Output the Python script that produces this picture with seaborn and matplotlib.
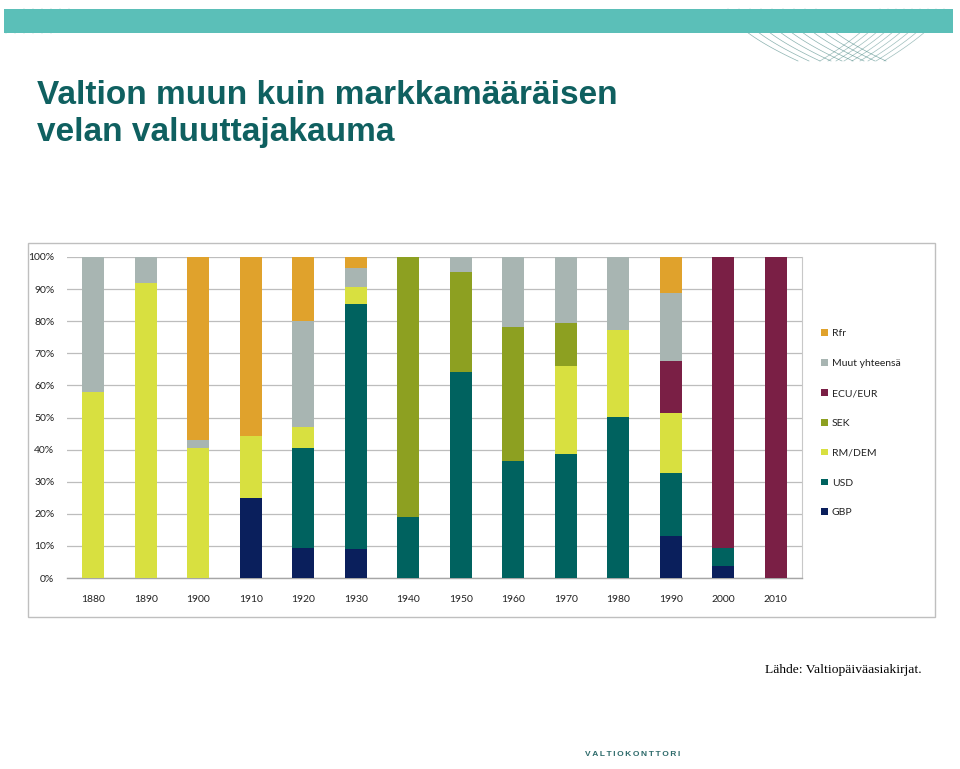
import matplotlib
matplotlib.use("Agg")
import matplotlib.pyplot as plt
import matplotlib.patches as mpatches
import numpy as np
import pandas as pd
import seaborn as sns

# Data (share of debt, %)
years = ["1880", "1890", "1900", "1910", "1920", "1930", "1940",
         "1950", "1960", "1970", "1980", "1990", "2000", "2010"]
gbp = [0, 0, 0, 25.0, 9.5, 9.0, 0, 0, 0, 0, 0, 13.0, 3.8, 0]
usd = [0, 0, 0, 0, 30.9, 76.5, 18.9, 64.3, 36.6, 38.7, 50.1, 19.8, 5.5, 0]
rm_dem = [58.0, 92.0, 40.6, 19.3, 6.6, 5.0, 0, 0, 0, 27.3, 27.2, 18.5, 0, 0]
sek = [0, 0, 0, 0, 0, 0, 81.1, 31.0, 41.7, 13.3, 0, 0, 0, 0]
ecu_eur = [0, 0, 0, 0, 0, 0, 0, 0, 0, 0, 0, 16.2, 90.7, 100]
muut = [42.0, 8.0, 2.5, 0, 33.1, 6.0, 0, 4.7, 21.7, 20.7, 22.7, 21.2, 0, 0]
rfr = [0, 0, 56.9, 55.7, 19.9, 3.5, 0, 0, 0, 0, 0, 11.3, 0, 0]

# bottom -> top stacking order
series = ["GBP", "USD", "RM/DEM", "SEK", "ECU/EUR", "Muut yhteensä", "Rfr"]
values = [gbp, usd, rm_dem, sek, ecu_eur, muut, rfr]
colors = {
    "GBP": "#0A1F5C",
    "USD": "#00625F",
    "RM/DEM": "#D8E040",
    "SEK": "#8DA021",
    "ECU/EUR": "#7A1F45",
    "Muut yhteensä": "#A8B5B2",
    "Rfr": "#E0A22C",
}

df = pd.DataFrame(dict(zip(series, values)), index=years)
cum = df.cumsum(axis=1)

W, H = 960, 769
fig = plt.figure(figsize=(9.6, 7.69), dpi=100)
fig.patch.set_facecolor("white")

# header band
fig.patches.append(mpatches.Rectangle((4 / W, 1 - 33 / H), 949 / W, 24 / H,
                                      transform=fig.transFigure,
                                      facecolor="#5BBFB8", edgecolor="none"))
# decorative wavy lines on the band
deco = fig.add_axes([0, 0, 1, 1], zorder=1)
deco.set_xlim(0, W)
deco.set_ylim(H, 0)
deco.axis("off")
t = np.linspace(0, 1, 60)
for k in range(9):
    deco.plot(728 + 11 * k + 70 * t ** 1.6, 9 + 52 * t, color="#3E7F7B",
              lw=0.5, alpha=0.6)
    deco.plot(880 + 8 * k - 60 * t ** 1.4, 9 + 52 * t, color="#3E7F7B",
              lw=0.5, alpha=0.5)
for k in range(6):
    deco.plot(6 + 9 * k + 18 * t ** 2, 33 - 24 * t, color="#2F7A75",
              lw=0.5, alpha=0.6)

# title
fig.text(37 / W, 1 - 104 / H, "Valtion muun kuin markkamääräisen",
         fontsize=24, fontweight="bold", color="#0F6060",
         family="Liberation Sans", va="baseline")
fig.text(37 / W, 1 - 141 / H, "velan valuuttajakauma",
         fontsize=24, fontweight="bold", color="#0F6060",
         family="Liberation Sans", va="baseline")

# chart frame
fig.patches.append(mpatches.Rectangle((27.5 / W, 1 - 617 / H), 907.5 / W, 374 / H,
                                      transform=fig.transFigure,
                                      facecolor="none", edgecolor="#BFBFBF",
                                      linewidth=1))

ax = fig.add_axes([67 / W, 1 - 578 / H, 735 / W, 321 / H])
ax.set_facecolor("none")

# stacked bars: draw cumulative totals from the top layer down
for name in reversed(series):
    sns.barplot(x=cum.index, y=cum[name].values, order=years,
                color=colors[name], width=0.41, saturation=1,
                edgecolor="none", linewidth=0, ax=ax, zorder=3)

ax.set_xlim(-0.5, 13.5)
ax.set_ylim(0, 100)
ax.set_yticks(np.arange(0, 101, 10))
ax.set_yticklabels([f"{v}%" for v in range(0, 101, 10)])
ax.yaxis.grid(True, color="#BDBDBD", linewidth=0.9, zorder=0)
ax.set_axisbelow(True)
ax.set_xlabel("")
ax.set_ylabel("")
for s in ["top", "left"]:
    ax.spines[s].set_visible(False)
ax.spines["bottom"].set_color("#A6A6A6")
ax.spines["bottom"].set_linewidth(1)
ax.spines["right"].set_color("#C8C8C8")
ax.spines["right"].set_linewidth(0.8)
ax.tick_params(axis="x", length=0, pad=12, labelsize=7.5, labelcolor="#222222")
ax.tick_params(axis="y", length=0, pad=9, labelsize=7.5, labelcolor="#222222")
for lab in ax.get_xticklabels() + ax.get_yticklabels():
    lab.set_family("Lato")

# legend (top to bottom)
handles = [mpatches.Patch(facecolor=colors[n], edgecolor="none", label=n)
           for n in reversed(series)]
fig.legend(handles=handles, loc="upper left",
           bbox_to_anchor=(812 / W, 1 - 320 / H), frameon=False,
           prop={"family": "Lato", "size": 7.5},
           handlelength=0.6, handleheight=0.6, handletextpad=0.4,
           labelspacing=2.0, labelcolor="#222222")

# source note
fig.text(765 / W, 1 - 670 / H, "Lähde: Valtiopäiväasiakirjat.",
         fontsize=9.7, family="Liberation Serif", color="black", va="center")

# footer logo text
fig.text(585 / W, 1 - 755 / H, "V A L T I O K O N T T O R I".replace(" ", "\u2009"),
         fontsize=6.0, fontweight="bold", family="Liberation Sans",
         color="#2E6B6B", va="center")

fig.savefig("out.png", dpi=100)
